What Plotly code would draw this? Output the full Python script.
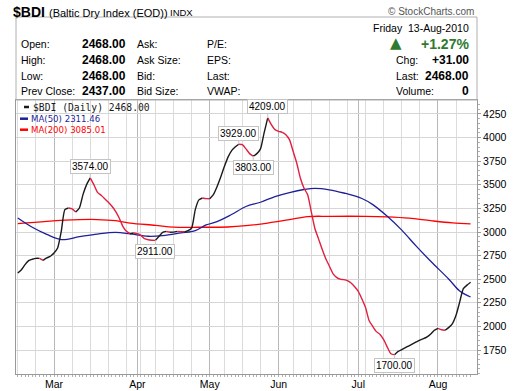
import plotly.graph_objects as go
import pandas as pd

# ---------------- data ----------------
holidays = ["2010-04-02", "2010-04-05", "2010-05-03", "2010-05-31"]
trading_days = [d for d in pd.bdate_range("2010-02-15", "2010-08-13")
                if d.strftime("%Y-%m-%d") not in holidays]

price = [
    2566, 2601, 2654, 2697, 2711, 2721, 2721, 2700, 2725, 2743,
    2778, 2831, 3007, 3237, 3254, 3244, 3212, 3254, 3396, 3502,
    3574, 3502, 3420, 3389, 3353, 3314, 3272, 3219, 3148, 3060,
    3007, 2982, 2990, 2982, 2965, 2929, 2918, 2913, 2911, 2954,
    2997, 3007, 2997, 2999, 3007, 3004, 3002, 3014, 3042, 3237,
    3340, 3360, 3353, 3352, 3396, 3480, 3580, 3690, 3790, 3860,
    3900, 3929, 3925, 3880, 3830, 3803, 3830, 3880, 4050, 4209,
    4137, 4084, 4066, 4056, 4031, 3978, 3855, 3731, 3572, 3466,
    3396, 3219, 3040, 2930, 2820, 2720, 2640, 2560, 2520, 2500,
    2495, 2485, 2460, 2420, 2370, 2290, 2200, 2060, 2000, 1945,
    1915, 1860, 1780, 1710, 1700, 1735, 1755, 1775, 1795, 1815,
    1835, 1855, 1870, 1890, 1920, 1960, 1980, 1965, 1960, 1990,
    2030, 2120, 2260, 2400, 2437, 2468,
]

ma50_day = [0, 4, 8, 12, 17, 22, 27, 31, 36, 40, 45, 49, 52, 55, 59, 63,
            67, 71, 75, 79, 82, 86, 90, 95, 98, 102, 106, 110, 114, 119, 122, 125]
ma50 = [3148, 3050, 2975, 2920, 2950, 2978, 2995, 2980, 2955, 2962, 2990, 3015,
        3075, 3110, 3185, 3270, 3315, 3375, 3418, 3450, 3462, 3447, 3413, 3355,
        3290, 3166, 3020, 2850, 2690, 2500, 2375, 2311.46]

ma200_day = [0, 8, 17, 22, 27, 31, 38, 43, 50, 58, 63, 69, 75, 80, 86, 96,
             102, 108, 114, 120, 125]
ma200 = [3088, 3113, 3131, 3132, 3120, 3095, 3071, 3052, 3050, 3053, 3067,
         3095, 3131, 3163, 3166, 3166, 3160, 3146, 3120, 3097, 3085.01]

extreme_day = [20, 38, 61, 65, 69, 104]
extreme_side = ["above", "below", "above", "below", "above", "below"]

month_names = ["Mar", "Apr", "May", "Jun", "Jul", "Aug"]
y_ticks = [1750, 2000, 2250, 2500, 2750, 3000, 3250, 3500, 3750, 4000, 4250]

row_labels = ["Open:", "High:", "Low:", "Prev Close:"]
row_values = [2468.00, 2468.00, 2468.00, 2437.00]
col3_labels = ["Ask:", "Ask Size:", "Bid:", "Bid Size:"]
col4_labels = ["P/E:", "EPS:", "Last:", "VWAP:"]
right_labels = ["Chg:", "Last:", "Volume:"]
right_values = ["+31.00", "2468.00", "0"]
pct_change = "+1.27%"
date_text = "Friday  13-Aug-2010"

# ---------------- styling ----------------
BLACK = "#1a1a1a"
RED_DOWN = "#e0203f"
BLUE = "#1f1f99"
RED = "#ff0000"
GREEN = "#2f7a2f"
FONT = "Liberation Sans"

L, R, T, B = 16, 477, 100, 374
W, H = 520, 391


def px(x):
    return (x - L) / (R - L)


def py(y):
    return (B - y) / (B - T)


n = len(price)
month_idx = [i for i in range(1, n) if trading_days[i].month != trading_days[i - 1].month]
week_idx = [i for i in range(n) if i == 0 or
            trading_days[i].isocalendar()[1] != trading_days[i - 1].isocalendar()[1]]

fig = go.Figure()

fig.add_trace(go.Scatter(x=ma200_day, y=ma200, mode="lines", line=dict(color=RED, width=1.3, shape="spline"),
                         hoverinfo="skip"))
fig.add_trace(go.Scatter(x=ma50_day, y=ma50, mode="lines", line=dict(color=BLUE, width=1.3, shape="spline"),
                         hoverinfo="skip"))


def seg_color(i):
    return BLACK if price[i + 1] >= price[i] else RED_DOWN


start = 0
runs = []
for i in range(1, n - 1):
    if seg_color(i) != seg_color(i - 1):
        runs.append((start, i, seg_color(i - 1)))
        start = i
runs.append((start, n - 1, seg_color(n - 2)))
for s, e, c in runs:
    fig.add_trace(go.Scatter(x=list(range(s, e + 1)), y=price[s:e + 1], mode="lines",
                             line=dict(color=c, width=1.4, shape="spline", smoothing=0.6),
                             xaxis="x2", hoverinfo="skip"))

annotations = []
shapes = []

# extreme value labels
for d, side in zip(extreme_day, extreme_side):
    annotations.append(dict(
        x=d, y=price[d], xref="x2", yref="y", text=f"{price[d]:.2f}",
        showarrow=True, arrowhead=0, arrowwidth=1, arrowcolor="#c8c8c8",
        ax=0, ay=-11 if side == "above" else 11,
        bgcolor="white", bordercolor="#c4c4c4", borderwidth=1, borderpad=1,
        font=dict(family=FONT, size=10, color="black")))

# legend
leg = [("$BDI (Daily) 2468.00", BLACK, 107, "DejaVu Sans Mono", 9.7, 24, 29, 31),
       ("MA(50) 2311.46", BLUE, 118.7, "DejaVu Sans", 8.6, 20, 28, 28.5),
       ("MA(200) 3085.01", RED, 129.7, "DejaVu Sans", 8.6, 20, 28, 28.5)]
for text, c, yy, fam, sz, x0, x1, tx in leg:
    shapes.append(dict(type="line", xref="paper", yref="paper", x0=px(x0), x1=px(x1),
                       y0=py(yy), y1=py(yy), line=dict(color=c, width=2.5)))
    annotations.append(dict(text=text, x=px(tx), y=py(yy), xref="paper", yref="paper",
                            xanchor="left", yanchor="middle", showarrow=False,
                            font=dict(family=fam, size=sz, color=c)))


def ann(text, x, y, xanchor="left", size=10.5, color="black", family=FONT):
    annotations.append(dict(text=text, x=px(x), y=py(y), xref="paper", yref="paper",
                            xanchor=xanchor, yanchor="middle", showarrow=False,
                            font=dict(family=family, size=size, color=color)))


# header
ann("<b>$BDI</b>", 11, 12, size=14)
ann("(Baltic Dry Index (EOD))", 47, 12.5, size=11)
ann("INDX", 168, 12.5, size=9.5)
ann("© StockCharts.com", 476, 12, xanchor="right", size=10, color="#555555")
shapes.append(dict(type="rect", xref="paper", yref="paper", x0=0, x1=1, y0=1, y1=py(17),
                   line=dict(color="#b0b0b0", width=1), fillcolor="rgba(0,0,0,0)"))

ann(date_text, 471, 28, xanchor="right", size=10.5)
rows_y = [44, 60, 76, 91]
for lab, val, c3, c4, yy in zip(row_labels, row_values, col3_labels, col4_labels, rows_y):
    ann(lab, 19, yy)
    ann(f"<b>{val:.2f}</b>", 80, yy, size=12)
    ann(c3, 135, yy)
    ann(c4, 205, yy)
ann("▲", 404, 43.5, xanchor="right", size=15, color=GREEN, family="DejaVu Sans")
ann(f"<b>{pct_change}</b>", 471, 44, xanchor="right", size=14, color=GREEN)
for lab, val, yy in zip(right_labels, right_values, rows_y[1:]):
    ann(lab, 394, yy)
    ann(f"<b>{val}</b>", 471, yy, xanchor="right", size=12)

fig.update_layout(
    width=W, height=H,
    margin=dict(l=L, r=W - R, t=T, b=H - B, pad=0),
    paper_bgcolor="white", plot_bgcolor="white",
    showlegend=False,
    font=dict(family=FONT, size=10.5, color="black"),
    xaxis=dict(range=[-0.49, 126.77], tickmode="array", tickvals=month_idx, ticktext=month_names,
               showgrid=True, gridcolor="#b8b8b8", gridwidth=1, ticks="",
               showline=True, linecolor="#999999", mirror=True, zeroline=False,
               automargin=False,
               minor=dict(tickmode="array", tickvals=week_idx, showgrid=True,
                          gridcolor="#dcdcdc", ticks=""),
               tickfont=dict(family=FONT, size=10.5)),
    xaxis2=dict(overlaying="x", matches="x", anchor="y", side="bottom",
                tickmode="array", tickvals=list(range(n)), ticks="outside", ticklen=2,
                tickcolor="#b0b0b0", showticklabels=False, showgrid=False,
                zeroline=False, showline=False, automargin=False),
    yaxis=dict(side="right", range=[1496, 4398], tickmode="array", tickvals=y_ticks,
               showgrid=True, gridcolor="#d6d6d6", ticks="outside", ticklen=3,
               tickcolor="#999999", showline=True, linecolor="#999999", mirror=True,
               zeroline=False, automargin=False,
               minor=dict(dtick=50, ticks="outside", ticklen=2, tickcolor="#b0b0b0", showgrid=False),
               tickfont=dict(family=FONT, size=10.5)),
    annotations=annotations,
    shapes=shapes,
)

fig.write_html("out.html",
               config={"displayModeBar": False, "staticPlot": True},
               post_script="document.body.style.margin='0';document.body.style.overflow='hidden';")
